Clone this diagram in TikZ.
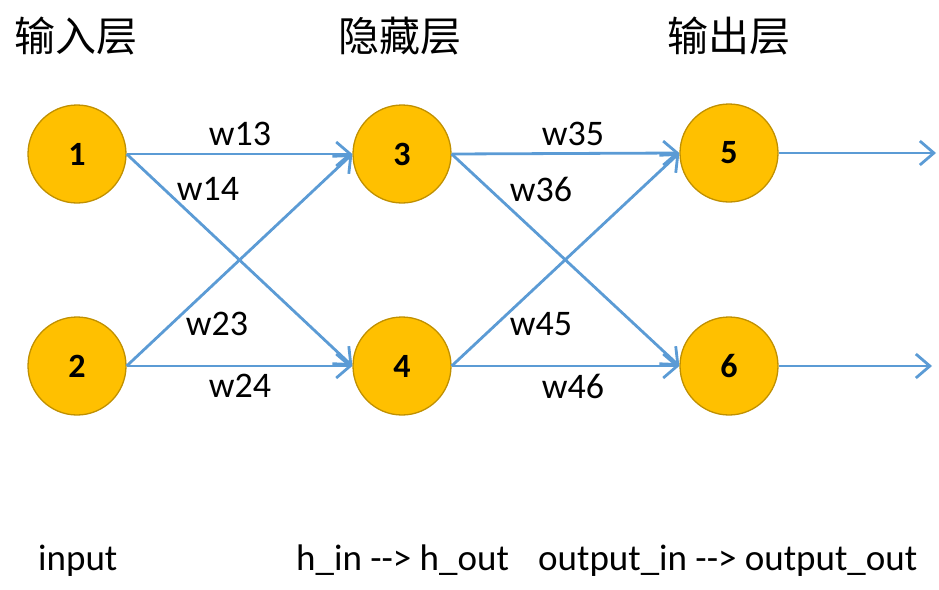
\documentclass[tikz,border=0pt]{standalone}
\usepackage{fontspec}
\setmainfont{Carlito}
\newfontfamily\cjk{Noto Sans CJK SC}
\usetikzlibrary{arrows.meta}
\definecolor{nfill}{HTML}{FFC000}
\definecolor{nborder}{HTML}{C09000}
\definecolor{eblue}{HTML}{5B9BD5}
\begin{document}
\begin{tikzpicture}[x=1pt,y=-1pt,
  neuron/.style={circle,fill=nfill,draw=nborder,line width=1.3pt,minimum size=98pt,inner sep=0pt,font=\fontsize{34}{38}\selectfont\bfseries},
  conn/.style={draw=eblue,line width=2.8pt,-{Straight Barb[length=14pt,width=24pt,line width=2.8pt]}},
  head/.style={font=\cjk\fontsize{41}{46}\selectfont},
  wlab/.style={font=\fontsize{36}{40}\selectfont},
  blab/.style={font=\fontsize{37}{40}\selectfont,anchor=base west,inner sep=0pt}]
\useasboundingbox (0,0) rectangle (939,589);
\node[head] (h1) at (76,36) {输入层};
\node[head] (h2) at (400,36) {隐藏层};
\node[head] (h3) at (729,36) {输出层};
\node[neuron] (n1) at (77,154) {1};
\node[neuron] (n2) at (77,366) {2};
\node[neuron] (n3) at (402,154) {3};
\node[neuron] (n4) at (402,366) {4};
\node[neuron] (n5) at (729,153) {5};
\node[neuron] (n6) at (729,366) {6};
\coordinate (o5) at (936,153);
\coordinate (o6) at (932,366);
\draw[conn] (n1.east) -- (n3.west);
\draw[conn] (n1.east) -- (n4.west);
\draw[conn] (n2.east) -- (n3.west);
\draw[conn] (n2.east) -- (n4.west);
\draw[conn] (n3.east) -- (n5.west);
\draw[conn] (n3.east) -- (n6.west);
\draw[conn] (n4.east) -- (n5.west);
\draw[conn] (n4.east) -- (n6.west);
\draw[conn] (n5.east) -- (o5);
\draw[conn] (n6.east) -- (o6);
\node[wlab] (w13) at (240,134) {w13};
\node[wlab] (w14) at (208,189) {w14};
\node[wlab] (w23) at (217,324) {w23};
\node[wlab] (w24) at (240,386) {w24};
\node[wlab] (w35) at (573,134) {w35};
\node[wlab] (w36) at (541,189) {w36};
\node[wlab] (w45) at (541,324) {w45};
\node[wlab] (w46) at (573,386) {w46};
\node[blab] (b1) at (38,570) {input};
\node[blab] (b2) at (296,570) {h\_in {-}{-}> h\_out};
\node[blab] (b3) at (538,570) {output\_in {-}{-}> output\_out};
\end{tikzpicture}
\end{document}
